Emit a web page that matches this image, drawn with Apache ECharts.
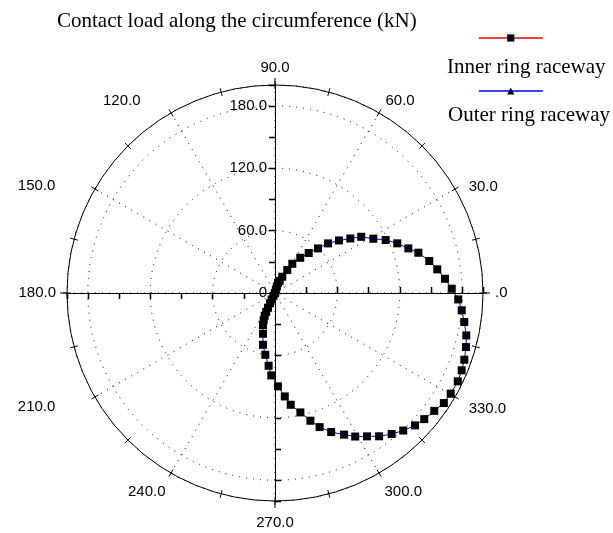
<!DOCTYPE html>
<html><head><meta charset="utf-8">
<script src="https://cdn.jsdelivr.net/npm/echarts@6/dist/echarts.min.js"></script>
<style>html,body{margin:0;padding:0;background:#fff}#c{width:613px;height:533px}</style>
</head><body><div id="c"></div>
<script>
// ---- data ----
const titleText = 'Contact load along the circumference (kN)';
const seriesNames = ['Inner ring raceway', 'Outer ring raceway'];
// angular position of each ball (deg) and its contact load (kN)
const angleDeg = [240, 242, 243, 244, 244.5, 245, 245.6, 247.5,
  249.4, 253.6, 256.9, 261.1, 265.0, 267.4, 271.8, 275.4, 278.0, 282.0,
  285.5, 288.4, 292.0, 296.0, 299.2, 302.7, 306.0, 309.6, 313.0, 316.6,
  319.8, 323.5, 326.9, 330.2, 334.2, 337.5, 340.6, 344.2, 347.5, 351.3,
  354.7, 358.0, 1.4, 4.8, 8.3, 11.7, 15.7, 18.5, 22.1, 25.6, 28.9, 33.1,
  35.9, 39.4, 43.1, 46.0, 49.9, 54.4, 59.4, 61.9, 65.9, 69.0, 73.8, 74, 76, 80];
const innerLoad = [0, 3, 7, 11, 15.7, 20, 24, 28.5,
  32.9, 40.8, 51.1, 60.1, 70.2, 79.3, 89.8, 99.9, 108.5, 117.4,
  127.4, 135.9, 144.2, 151.5, 158.1, 163.8, 170.3, 176.0, 180.8, 185.3,
  187.9, 190.5, 193.8, 194.7, 195.2, 194.3, 193.0, 190.9, 188.4, 184.1,
  180.3, 176.3, 170.0, 164.0, 157.7, 151.5, 143.2, 135.2, 126.9, 118.0, 108.0, 99.0,
  89.4, 79.6, 69.8, 59.6, 50.3, 41.7, 32.7, 25.1, 17.2, 12.5, 10.3, 6.5, 3.5, 0];
const outerLoad = [0, 3, 7, 11, 15.7, 20, 24, 28.5,
  32.9, 40.8, 51.1, 60.1, 70.2, 79.3, 89.8, 99.9, 108.5, 117.4,
  127.4, 135.9, 144.2, 151.5, 158.1, 163.8, 170.3, 176.0, 180.8, 185.3,
  187.9, 190.5, 193.8, 194.7, 195.2, 194.3, 193.0, 190.9, 188.4, 184.1,
  180.3, 176.3, 170.0, 164.0, 157.7, 151.5, 143.2, 135.2, 126.9, 118.0, 108.0, 99.0,
  89.4, 79.6, 69.8, 59.6, 50.3, 41.7, 32.7, 25.1, 17.2, 12.5, 10.3, 6.5, 3.5, 0];
const radiusMax = 200;
const radiusTickStep = 30;
const radiusGridStep = 60;
const radiusLabels = [0, 60, 120, 180];
const angleLabelStep = 30;
const angleTickStep = 15;
const axisDirections = [0, 90, 180, 270];
// label nudges (padding: top, right, bottom, left) to match the original placement
const angleLabelPad = {
  0: [0, 0, 0, 1], 30: [0, 0, -11, 4], 60: [0, 0, -5, 1], 90: [0, 0, -1, 0],
  120: [0, 25, -5, 0], 150: [0, 30, -10, 0], 180: [0, 0, 0, 0], 210: [-3, 30, 0, 0],
  240: [2, 0, 0, 0], 270: [3, 0, 0, 0], 300: [2, 2, 0, 0], 330: [-1, 0, 0, 4]
};

// ---- chart ----
const CENTER = [275, 293], RADIUS = 208;
const chart = echarts.init(document.getElementById('c'), null, {renderer: 'canvas'});
const off = {axisLine: {show: false}, axisTick: {show: false}, axisLabel: {show: false},
             splitLine: {show: false}, splitArea: {show: false}};
const polar = [], angleAxis = [], radiusAxis = [];
function addPolar(a, r) {
  const i = polar.length;
  polar.push({center: CENTER, radius: RADIUS});
  angleAxis.push(Object.assign({polarIndex: i, type: 'value', min: 0, max: 360,
    startAngle: 0, clockwise: false}, off, a));
  radiusAxis.push(Object.assign({polarIndex: i, type: 'value', min: 0, max: radiusMax}, off, r));
  return i;
}
const dotted = {color: '#000', width: 1, type: [1, 6]};
const labelFont = {color: '#000', fontFamily: 'Liberation Sans', fontSize: 15};
const rich = {};
Object.keys(angleLabelPad).forEach(k => {
  rich['a' + k] = Object.assign({padding: angleLabelPad[k]}, labelFont);
});
// main polar: outer circle, angle labels, dotted grid
addPolar({
  interval: angleLabelStep,
  axisLine: {show: true, lineStyle: {color: '#000', width: 1}},
  axisLabel: Object.assign({show: true, margin: 11, rich: rich,
    formatter: v => v === 360 ? '' : '{a' + v + '|' + (v === 0 ? '.0' : v.toFixed(1)) + '}'}, labelFont),
  splitLine: {show: true, lineStyle: dotted}
}, {
  interval: radiusGridStep,
  splitLine: {show: true, lineStyle: dotted}
});
// angle ticks every 15 deg, both sides of circle
[false, true].forEach(ins => addPolar({
  interval: angleTickStep,
  axisTick: {show: true, inside: ins, length: 4, lineStyle: {color: '#000', width: 1}}
}, {}));
// axis extensions beyond circle
addPolar({interval: 90, axisTick: {show: true, length: 7, lineStyle: {color: '#000', width: 1}}}, {});
// four radial axes with ticks on both sides
axisDirections.forEach(d => {
  [false, true].forEach(ins => addPolar({startAngle: d}, {
    interval: radiusTickStep,
    axisLine: {show: true, lineStyle: {color: '#000', width: 1}},
    axisTick: {show: true, inside: ins, length: 6, lineStyle: {color: '#000', width: 1.3}},
    axisLabel: Object.assign({show: d === 90 && !ins, margin: 8,
      formatter: v => radiusLabels.indexOf(v) < 0 ? '' : (v === 0 ? '0' : v.toFixed(1))}, labelFont)
  }));
});

const innerData = angleDeg.map((a, i) => [innerLoad[i], a]);
const outerData = angleDeg.map((a, i) => [outerLoad[i], a]);

const legendText = {fontFamily: 'Liberation Serif', fontSize: 21, color: '#000'};
chart.setOption({
  animation: false,
  title: {text: titleText, left: 57, top: 11, padding: 0,
    textStyle: {fontFamily: 'Liberation Serif', fontSize: 21, fontWeight: 'normal', color: '#000'}},
  legend: [
    {data: [{name: seriesNames[0], lineStyle: {color: '#ff0000', width: 1.5, opacity: 1}}],
     left: 478, top: 33.5, padding: 0, itemWidth: 64, itemHeight: 9, selectedMode: false,
     formatter: () => '', textStyle: {fontSize: 9}},
    {data: [{name: seriesNames[1], lineStyle: {color: '#0000ff', width: 1.5, opacity: 1}}],
     left: 478, top: 86.5, padding: 0, itemWidth: 64, itemHeight: 9, selectedMode: false,
     formatter: () => '', textStyle: {fontSize: 9}},
    {data: [{name: seriesNames[0], icon: 'none'}], left: 442, top: 57, padding: 0,
     itemWidth: 0, itemHeight: 0, selectedMode: false, textStyle: legendText},
    {data: [{name: seriesNames[1], icon: 'none'}], left: 443, top: 105, padding: 0,
     itemWidth: 0, itemHeight: 0, selectedMode: false, textStyle: legendText}
  ],
  polar, angleAxis, radiusAxis,
  series: [
    {name: seriesNames[1], type: 'line', coordinateSystem: 'polar', polarIndex: 0,
     data: outerData, symbol: 'triangle', symbolSize: 7, showSymbol: true,
     lineStyle: {color: '#0000ff', width: 1}, itemStyle: {color: '#000'},
     emphasis: {disabled: true}, silent: true, z: 3},
    {name: seriesNames[0], type: 'line', coordinateSystem: 'polar', polarIndex: 0,
     data: innerData, symbol: 'rect', symbolSize: 8, showSymbol: true,
     lineStyle: {color: '#ff0000', width: 1, opacity: 0}, itemStyle: {color: '#000'},
     emphasis: {disabled: true}, silent: true, z: 4}
  ]
});
</script></body></html>
